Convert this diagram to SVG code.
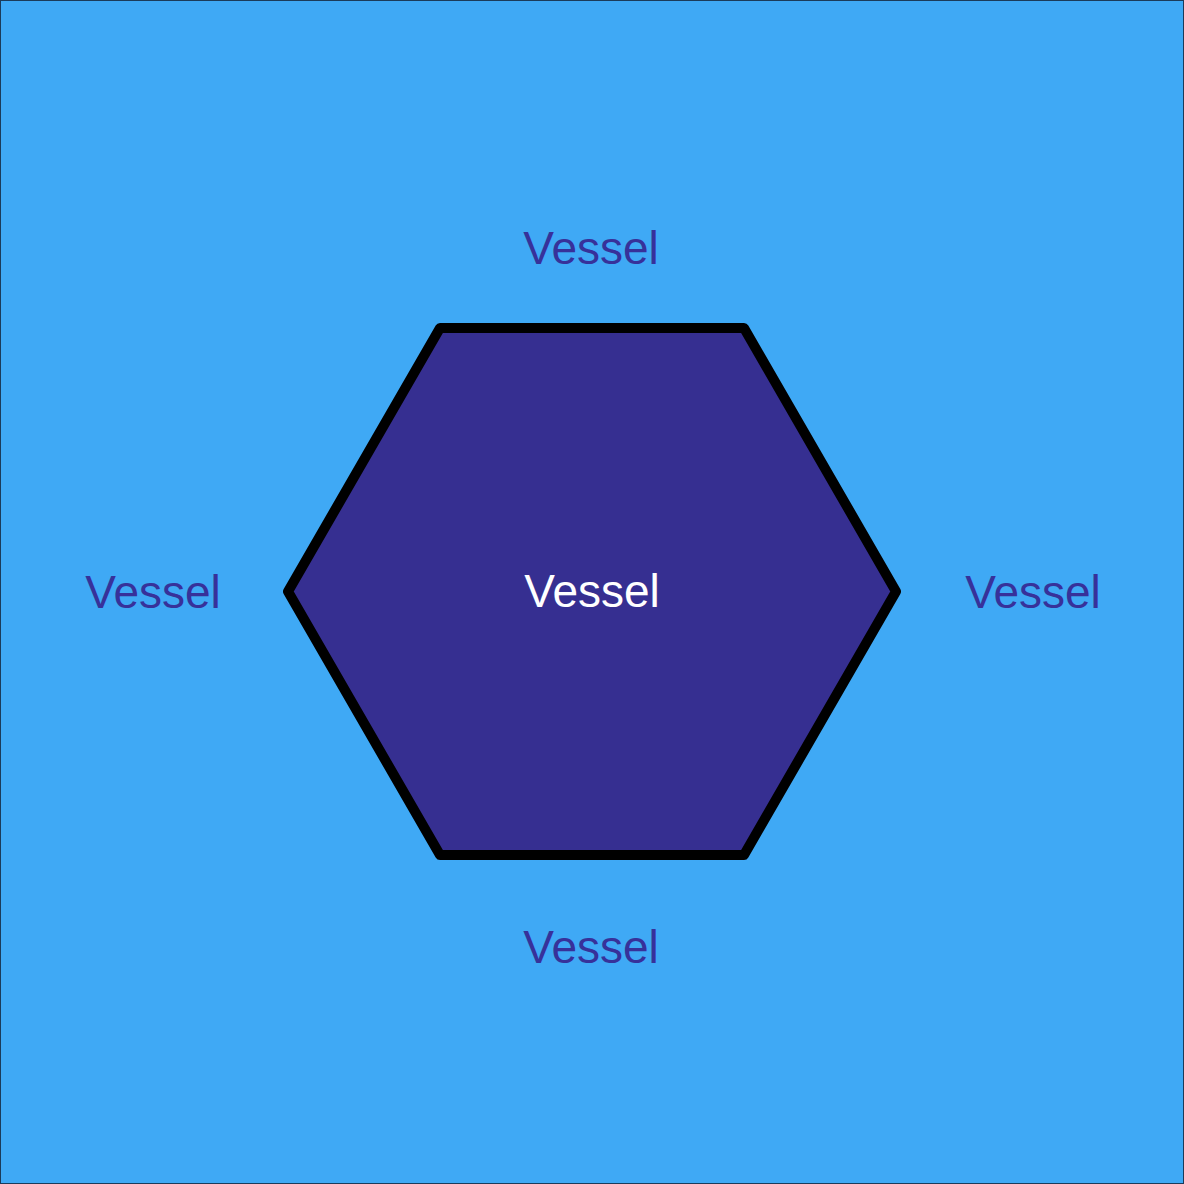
<svg xmlns="http://www.w3.org/2000/svg" width="1184" height="1184" viewBox="0 0 1184 1184">
<style>
.lbl{font-family:"Liberation Sans",Arial,sans-serif;font-size:46px;text-anchor:middle;fill:#37319a}
.in{fill:#ffffff}
</style>
<rect x="0.5" y="0.5" width="1183" height="1183" fill="#3fa9f5" stroke="#1b3b5a" stroke-width="1"/>
<g id="hexagon">
<polygon points="440,328 744,328 896,591.5 744,855 440,855 288,591.5" fill="#362f91" stroke="#000000" stroke-width="10" stroke-linejoin="round"/>
<text class="lbl in" x="592" y="607">Vessel</text>
</g>
<g id="label-top"><text class="lbl" x="591" y="264">Vessel</text></g>
<g id="label-bottom"><text class="lbl" x="591" y="963">Vessel</text></g>
<g id="label-left"><text class="lbl" x="153" y="608">Vessel</text></g>
<g id="label-right"><text class="lbl" x="1033" y="608">Vessel</text></g>
<g id="connectors"></g>
</svg>
